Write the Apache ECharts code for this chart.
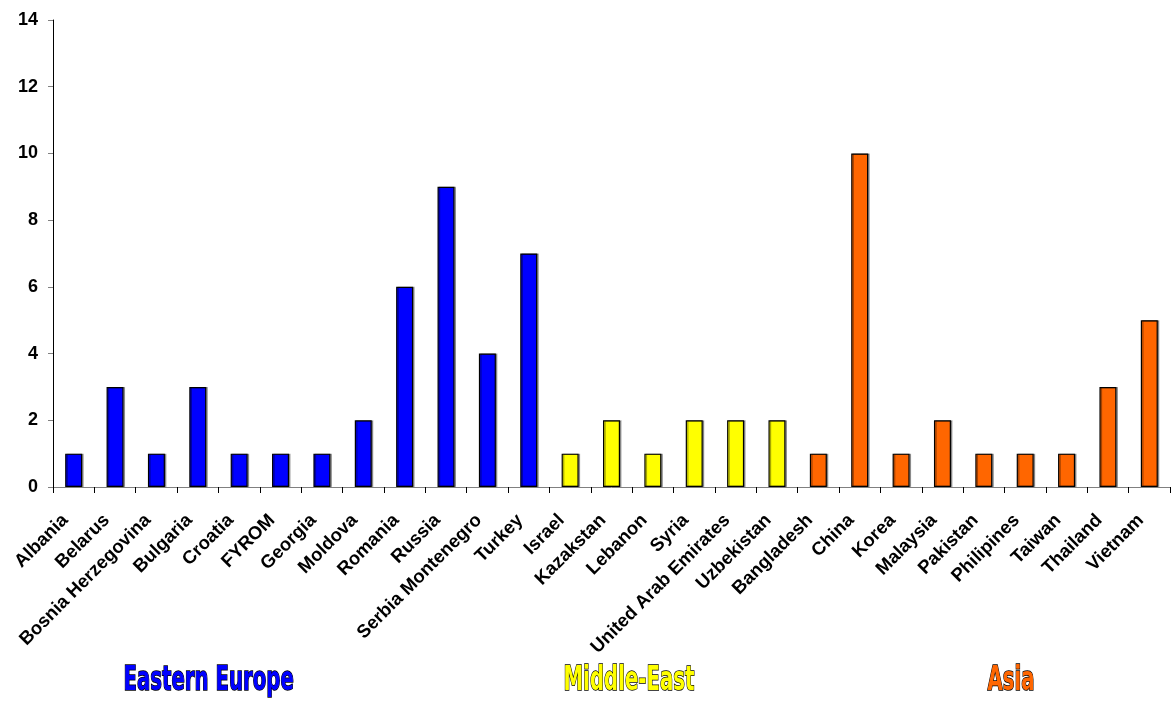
<!DOCTYPE html>
<html><head><meta charset="utf-8">
<script src="https://cdn.jsdelivr.net/npm/echarts@6/dist/echarts.min.js"></script>
<style>html,body{margin:0;padding:0;background:#fff}#c{width:1173px;height:706px}</style>
</head><body><div id="c"></div>
<script>
const categories = ["Albania","Belarus","Bosnia Herzegovina","Bulgaria","Croatia","FYROM","Georgia","Moldova","Romania","Russia","Serbia Montenegro","Turkey","Israel","Kazakstan","Lebanon","Syria","United Arab Emirates","Uzbekistan","Bangladesh","China","Korea","Malaysia","Pakistan","Philipines","Taiwan","Thailand","Vietnam"];
const values = [1,3,1,3,1,1,1,2,6,9,4,7,1,2,1,2,2,2,1,10,1,2,1,1,1,3,5];
const regions = ["EE","EE","EE","EE","EE","EE","EE","EE","EE","EE","EE","EE","ME","ME","ME","ME","ME","ME","AS","AS","AS","AS","AS","AS","AS","AS","AS"];
const regionColors = {EE:"#0000FF", ME:"#FFFF00", AS:"#FF6600"};
const groupLabels = [
  {text:"Eastern Europe", color:"#0000FF"},
  {text:"Middle-East", color:"#FFFF00"},
  {text:"Asia", color:"#FF6600"}
];
const groupLeft = [123, 563, 987];
const yTicks = [0,2,4,6,8,10,12,14];

const chart = echarts.init(document.getElementById('c'), null, {renderer:'canvas'});
const fontFam = "'Liberation Sans', Arial, sans-serif";
chart.setOption({
  animation:false,
  grid:{left:53, right:3, top:20, bottom:219, containLabel:false},
  xAxis:{
    type:'category', data:categories,
    axisLine:{lineStyle:{color:'#808080', width:1}},
    axisTick:{show:true, length:6, lineStyle:{color:'#000'}},
    axisLabel:{rotate:45, interval:0, fontFamily:fontFam, fontWeight:'bold', fontSize:18.5, color:'#000', margin:22, padding:[0,12,0,0]}
  },
  yAxis:{
    type:'value', min:yTicks[0], max:yTicks[yTicks.length-1], interval:2,
    splitLine:{show:false},
    axisLine:{show:true, lineStyle:{color:'#000', width:1}},
    axisTick:{show:true, length:5, lineStyle:{color:'#808080'}},
    axisLabel:{fontFamily:fontFam, fontWeight:'bold', fontSize:18, color:'#000', margin:15}
  },
  series:[{
    type:'bar', barWidth:17,
    data: values.map((v,i)=>({value:v, itemStyle:{color:regionColors[regions[i]]}})),
    itemStyle:{borderColor:'#000', borderWidth:1.2, shadowColor:'rgba(0,0,0,0.35)', shadowOffsetX:1.5, shadowOffsetY:0, shadowBlur:0}
  }],
  graphic: groupLabels.map((g,i)=>({
    type:'text', left:groupLeft[i], top:663,
    style:{text:g.text, fill:g.color, stroke:'#000', lineWidth:1.5,
      font:"bold 34px 'Liberation Sans Narrow', 'DejaVu Sans Condensed', sans-serif"},
    scaleX:0.645
  }))
});
</script></body></html>
